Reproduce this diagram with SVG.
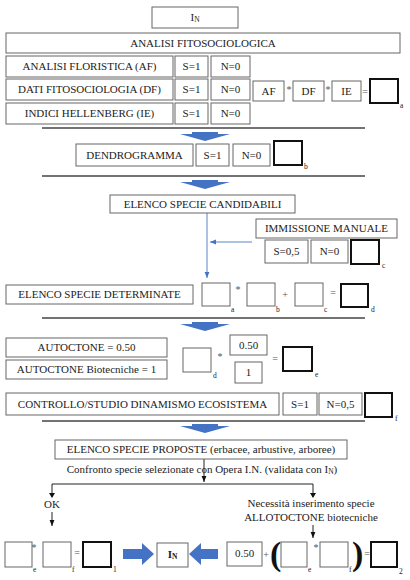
<svg xmlns="http://www.w3.org/2000/svg" width="410" height="580" viewBox="0 0 410 580" font-family="Liberation Serif, serif">
<defs>
<style>
text{font-family:"Liberation Serif","Times New Roman",Times,serif;font-size:11px;fill:#222;}
.c{text-anchor:middle;}
.sm{font-size:7.5px;}
.op{font-size:10px;fill:#555;text-anchor:middle;}
.box{fill:#fff;stroke:#666;stroke-width:1;}
.bold{fill:#fff;stroke:#111;stroke-width:2;}
.sep{stroke:#444;stroke-width:1.3;}
.blue{fill:#4472c4;}
.thin{stroke:#5b86c8;stroke-width:1;fill:none;}
.blk{stroke:#222;stroke-width:1;fill:none;}
.par{font-size:34px;font-weight:bold;fill:#111;}
</style>
<marker id="ab" viewBox="0 0 10 10" refX="10" refY="5" markerWidth="6" markerHeight="6" orient="auto"><path d="M0,1 L10,5 L0,9 z" fill="#4472c4"/></marker>
<marker id="ak" viewBox="0 0 10 10" refX="10" refY="5" markerWidth="6" markerHeight="6" orient="auto"><path d="M0,1 L10,5 L0,9 z" fill="#111"/></marker>
</defs>
<rect width="410" height="580" fill="#fff"/>

<g id="connectors">
<line class="sep" x1="42" y1="128" x2="365" y2="128"/>
<line class="sep" x1="42" y1="176" x2="365" y2="176"/>
<line class="sep" x1="42" y1="318" x2="365" y2="318"/>
<line class="sep" x1="42" y1="421" x2="365" y2="421"/>
<polygon class="blue" points="192,132 218,132 218,134 230,134 205,141 180,134 192,134"/>
<polygon class="blue" points="192,180 218,180 218,182 230,182 205,189 180,182 192,182"/>
<polygon class="blue" points="192,322 218,322 218,324 230,324 205,331 180,324 192,324"/>
<polygon class="blue" points="192,424 218,424 218,426 230,426 205,433 180,426 192,426"/>
<line class="thin" x1="207" y1="213" x2="207" y2="278" marker-end="url(#ab)"/>
<line class="thin" x1="252" y1="242" x2="210" y2="242" marker-end="url(#ab)"/>
<line class="blk" x1="204" y1="459" x2="204" y2="482" marker-end="url(#ak)"/>
<polyline class="blk" points="52,497 52,484 313,484 313,497"/>
<polygon fill="#111" points="49,493 55,493 52,498"/>
<polygon fill="#111" points="310,493 316,493 313,498"/>
<line class="blk" x1="52" y1="512" x2="52" y2="526" marker-end="url(#ak)"/>
<line class="blk" x1="313" y1="525" x2="313" y2="538" marker-end="url(#ak)"/>
<polygon class="blue" points="123,549 142,549 142,543 154,554 142,565 142,559 123,559"/>
<polygon class="blue" points="218,549 201,549 201,543 189,554 201,565 201,559 218,559"/>
</g>

<g id="n-in-top"><rect class="box" x="152" y="7" width="86" height="21"/><text x="195" y="21" class="c">I<tspan class="sm" dy="1">N</tspan></text></g>
<g id="n-analisi"><rect class="box" x="6" y="33" width="394" height="20"/><text x="203" y="47" class="c">ANALISI FITOSOCIOLOGICA</text></g>

<g id="n-af"><rect class="box" x="6" y="56" width="167" height="21"/><text x="89.5" y="70" class="c">ANALISI FLORISTICA (AF)</text>
<rect class="box" x="175" y="56" width="33" height="21"/><text x="191.5" y="70" class="c">S=1</text>
<rect class="box" x="211" y="56" width="39" height="21"/><text x="230.5" y="70" class="c">N=0</text></g>

<g id="n-df"><rect class="box" x="6" y="79" width="167" height="21"/><text x="89.5" y="93" class="c">DATI FITOSOCIOLOGIA (DF)</text>
<rect class="box" x="175" y="79" width="33" height="21"/><text x="191.5" y="93" class="c">S=1</text>
<rect class="box" x="211" y="79" width="39" height="21"/><text x="230.5" y="93" class="c">N=0</text></g>

<g id="n-formula-a">
<rect class="box" x="253" y="81" width="31" height="20"/><text x="268.5" y="95" class="c">AF</text>
<text x="289" y="93" class="op">*</text>
<rect class="box" x="293" y="81" width="31" height="20"/><text x="308.5" y="95" class="c">DF</text>
<text x="328" y="93" class="op">*</text>
<rect class="box" x="332" y="81" width="29" height="20"/><text x="346.5" y="95" class="c">IE</text>
<text x="365" y="95" class="op">=</text>
<rect class="bold" x="370" y="79" width="28" height="24"/><text x="400" y="108" class="sm">a</text></g>

<g id="n-ie"><rect class="box" x="6" y="103" width="167" height="21"/><text x="89.5" y="117" class="c">INDICI HELLENBERG (IE)</text>
<rect class="box" x="175" y="103" width="33" height="21"/><text x="191.5" y="117" class="c">S=1</text>
<rect class="box" x="211" y="103" width="39" height="21"/><text x="230.5" y="117" class="c">N=0</text></g>

<g id="n-dendro"><rect class="box" x="76" y="144" width="117" height="22"/><text x="134.5" y="159" class="c">DENDROGRAMMA</text>
<rect class="box" x="196" y="144" width="33" height="22"/><text x="212.5" y="159" class="c">S=1</text>
<rect class="box" x="233" y="144" width="37" height="22"/><text x="251.5" y="159" class="c">N=0</text>
<rect class="bold" x="274" y="141" width="28" height="24"/><text x="304" y="169" class="sm">b</text></g>

<g id="n-candidabili"><rect class="box" x="110" y="195" width="185" height="18"/><text x="202.5" y="208" class="c">ELENCO SPECIE CANDIDABILI</text></g>

<g id="n-immissione"><rect class="box" x="256" y="219" width="141" height="19"/><text x="326.5" y="232" class="c">IMMISSIONE MANUALE</text>
<rect class="box" x="265" y="240" width="43" height="23"/><text x="286.5" y="255" class="c">S=0,5</text>
<rect class="box" x="311" y="240" width="37" height="23"/><text x="329.5" y="255" class="c">N=0</text>
<rect class="bold" x="351" y="240" width="28" height="24"/><text x="382" y="268" class="sm">c</text></g>

<g id="n-determinate"><rect class="box" x="6" y="285" width="187" height="19"/><text x="99.5" y="298" class="c">ELENCO SPECIE DETERMINATE</text>
<rect class="box" x="202" y="283" width="28" height="23"/><text x="231" y="312" class="sm">a</text>
<text x="238" y="293" class="op">*</text>
<rect class="box" x="247" y="283" width="28" height="23"/><text x="276" y="312" class="sm">b</text>
<text x="285" y="298" class="op">+</text>
<rect class="box" x="295" y="283" width="28" height="23"/><text x="324" y="312" class="sm">c</text>
<text x="333" y="296" class="op">=</text>
<rect class="bold" x="341" y="284" width="27" height="23"/><text x="371" y="312" class="sm">d</text></g>

<g id="n-autoctone"><rect class="box" x="6" y="338" width="161" height="19"/><text x="86.5" y="351" class="c">AUTOCTONE = 0.50</text>
<rect class="box" x="6" y="360" width="161" height="19"/><text x="86.5" y="373" class="c">AUTOCTONE Biotecniche = 1</text>
<rect class="box" x="183" y="348" width="28" height="24"/><text x="213" y="378" class="sm">d</text>
<text x="220" y="360" class="op">*</text>
<rect class="box" x="230" y="335" width="37" height="20"/><text x="248.5" y="349" class="c">0.50</text>
<rect class="box" x="235" y="362" width="27" height="21"/><text x="248.5" y="376" class="c">1</text>
<text x="275" y="362" class="op">=</text>
<rect class="bold" x="283" y="347" width="29" height="24"/><text x="315" y="377" class="sm">e</text></g>

<g id="n-controllo"><rect class="box" x="6" y="393" width="273" height="22"/><text x="142.5" y="408" class="c">CONTROLLO/STUDIO DINAMISMO ECOSISTEMA</text>
<rect class="box" x="283" y="393" width="34" height="22"/><text x="300" y="408" class="c">S=1</text>
<rect class="box" x="319" y="393" width="43" height="22"/><text x="340.5" y="408" class="c">N=0,5</text>
<rect class="bold" x="365" y="393" width="27" height="24"/><text x="395" y="421" class="sm">f</text></g>

<g id="n-proposte"><rect class="box" x="55" y="440" width="292" height="19"/><text x="201" y="453" class="c">ELENCO SPECIE PROPOSTE (erbacee, arbustive, arboree)</text></g>
<g id="n-confronto"><text x="202" y="473" class="c">Confronto specie selezionate con Opera I.N. (validata con I<tspan class="sm" dy="1">N</tspan><tspan dy="-1">)</tspan></text></g>
<g id="n-ok"><text x="52" y="508" class="c">OK</text></g>
<g id="n-necessita"><text x="311" y="507" class="c">Necessità inserimento specie</text><text x="311" y="521" class="c">ALLOTOCTONE biotecniche</text></g>

<g id="n-formula-1">
<rect class="box" x="5" y="542" width="27" height="25"/><text x="34" y="551" class="op">*</text><text x="33" y="572" class="sm">e</text>
<rect class="box" x="43" y="542" width="28" height="25"/><text x="72" y="572" class="sm">f</text>
<text x="77" y="556" class="op">=</text>
<rect class="bold" x="83" y="542" width="28" height="25"/><text x="113" y="572" class="sm">1</text></g>

<g id="n-in-bottom"><rect class="box" x="157" y="543" width="31" height="24"/><text x="172.5" y="558" class="c" font-weight="bold">I<tspan class="sm" dy="1">N</tspan></text></g>

<g id="n-formula-2">
<rect class="box" x="227" y="542" width="35" height="24"/><text x="244.5" y="557" class="c">0.50</text>
<text x="266" y="558" class="op">+</text>
<text x="270" y="565" class="par">(</text>
<rect class="box" x="281" y="542" width="26" height="25"/><text x="308" y="572" class="sm">e</text>
<text x="316" y="551" class="op">*</text>
<rect class="box" x="320" y="542" width="28" height="25"/><text x="349" y="572" class="sm">f</text>
<text x="352" y="565" class="par">)</text>
<text x="367" y="557" class="op">=</text>
<rect class="bold" x="371" y="542" width="26" height="25"/><text x="399" y="574" class="sm">2</text></g>
</svg>
